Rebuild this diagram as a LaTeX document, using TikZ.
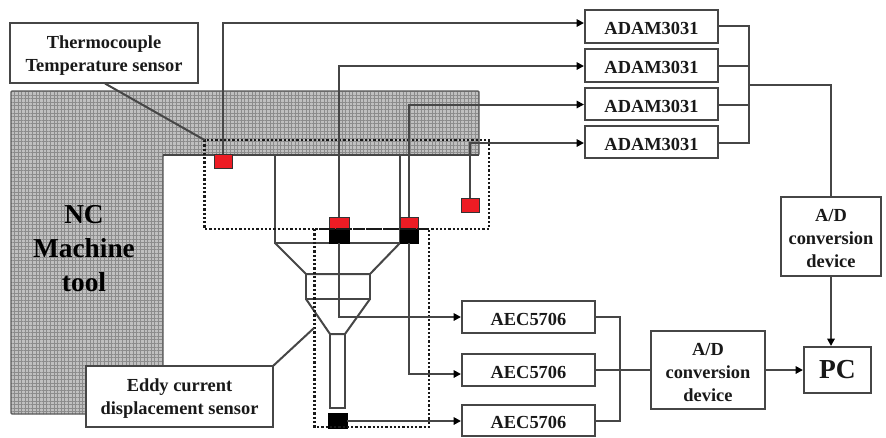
\documentclass[tikz,border=0pt]{standalone}
\usepackage{fontspec}
\setmainfont{Liberation Serif}
\usetikzlibrary{patterns,patterns.meta,arrows.meta}
\definecolor{sensred}{RGB}{237,28,36}
\definecolor{ink}{RGB}{70,70,70}
\definecolor{hatchbase}{RGB}{192,192,192}
\definecolor{hatchline}{RGB}{140,140,140}
\tikzset{
  x=0.75pt,y=-0.75pt,
  wire/.style={draw=ink,line width=1.5pt},
  arrowwire/.style={wire,-{Triangle[length=5.5pt,width=5.5pt,black]}},
  dotbox/.style={draw=black!90,line width=1.7pt,dash pattern=on 1.7pt off 1.5pt},
  lbl/.style={font=\fontsize{13.8pt}{17.2pt}\selectfont\bfseries,align=center,text=black!90},
  boxed/.style={wire,fill=white,inner sep=0pt},
  redsens/.style={draw=black!80,line width=0.75pt,fill=sensred,inner sep=0pt},
  blacksens/.style={draw=black,fill=black,inner sep=0pt},
}
\newcommand{\boxat}[6]{\node[boxed,minimum width=#4*0.75pt-#2*0.75pt,minimum height=#5*0.75pt-#3*0.75pt,label={[lbl,yshift=-1.7pt]center:{#6}}] (#1) at ({(#2+#4)/2},{(#3+#5)/2}) {};}
\newcommand{\sensat}[6]{\node[#6,minimum width=#4*0.75pt-#2*0.75pt,minimum height=#5*0.75pt-#3*0.75pt] (#1) at ({(#2+#4)/2},{(#3+#5)/2}) {};}
\begin{document}
\begin{tikzpicture}
\useasboundingbox (0,0) rectangle (886,437);
% machine tool body
\path[fill=hatchbase]
  (11,91)--(479,91)--(479,155)--(163,155)--(163,414)--(11,414)--cycle;
\fill[pattern={Lines[distance=2.7pt,angle=0,line width=0.75pt]},pattern color=hatchline]
  (11,91)--(479,91)--(479,155)--(163,155)--(163,414)--(11,414)--cycle;
\fill[pattern={Lines[distance=2.7pt,angle=90,line width=0.75pt]},pattern color=hatchline]
  (11,91)--(479,91)--(479,155)--(163,155)--(163,414)--(11,414)--cycle;
\draw[draw=gray!70!black,line width=1pt,rounded corners=0.8pt]
  (11,91)--(479,91)--(479,155)--(163,155)--(163,414)--(11,414)--cycle;
\node[font=\fontsize{20.5pt}{25.5pt}\selectfont\bfseries,align=center,text=black] (nc) at (84,249) {NC\\Machine\\tool};
% tool
\coordinate (t1) at (275,155); \coordinate (t2) at (275,243); \coordinate (t3) at (400,243); \coordinate (t4) at (400,155);
\coordinate (f1) at (306,274); \coordinate (f2) at (370,274); \coordinate (f3) at (306,299); \coordinate (f4) at (370,299);
\coordinate (g1) at (330,334); \coordinate (g2) at (345,334); \coordinate (g3) at (330,408); \coordinate (g4) at (345,408);
\draw[wire] (163,155)--(479,155);
\draw[wire] (t1)--(t2)--(t3)--(t4);
\draw[wire] (t2)--(f1)--(f2)--(t3);
\draw[wire] (f1)--(f3)--(f4)--(f2);
\draw[wire] (f3)--(g1)--(g2)--(f4);
\draw[wire] (g1)--(g3)--(g4)--(g2);
% boxes
\boxat{thermo}{10}{23}{198}{83}{Thermocouple\\Temperature sensor}
\boxat{adamA}{585}{10}{718}{43}{ADAM3031}
\boxat{adamB}{585}{49}{718}{82}{ADAM3031}
\boxat{adamC}{585}{88}{718}{120}{ADAM3031}
\boxat{adamD}{585}{126}{718}{158}{ADAM3031}
\boxat{aecA}{462}{300.5}{595}{333}{AEC5706}
\boxat{aecB}{462}{354}{595}{386}{AEC5706}
\boxat{aecC}{462}{405}{595}{436}{AEC5706}
\boxat{adA}{781}{197}{881}{276}{A/D\\conversion\\device}
\boxat{adB}{651}{331}{765}{409}{A/D\\conversion\\device}
\node[boxed,minimum width=50.25pt,minimum height=34.5pt,font=\fontsize{20.6pt}{24pt}\selectfont\bfseries,text=black!90] (pc) at (837.5,370) {PC};
% sensors
\sensat{rA}{214}{154.5}{232}{168}{redsens}
\sensat{rB}{329.5}{217}{349}{229}{redsens}
\sensat{rC}{400}{217}{418}{229}{redsens}
\sensat{rD}{461}{198}{479}{212}{redsens}
\sensat{bB}{329.5}{229}{349}{243}{blacksens}
\sensat{bC}{400}{229}{418}{243}{blacksens}
\sensat{bD}{328}{413}{347}{428}{blacksens}
% dotted frames
\coordinate (d1) at (204.5,140); \coordinate (d2) at (489,229); \coordinate (e1) at (314.5,229); \coordinate (e2) at (429,427);
\draw[dotbox] (d1) rectangle (d2);
\draw[dotbox] (e1) rectangle (e2);
% leaders
\coordinate (lt) at (105,83.5); \coordinate (le) at (273,366); \coordinate (lf) at (314,328);
\draw[wire] (lt)--(d1);
\draw[wire] (le)--(lf);
% thermocouple wires
\coordinate (wA) at (222.5,23); \coordinate (wB) at (339,66); \coordinate (wC) at (408.7,104.5); \coordinate (wD) at (470,143);
\draw[arrowwire] (rA.north -| wA)--(wA)--(wA -| adamA.west);
\draw[arrowwire] (rB.north -| wB)--(wB)--(wB -| adamB.west);
\draw[arrowwire] (rC.north -| wC)--(wC)--(wC -| adamC.west);
\draw[arrowwire] (rD.north -| wD)--(wD)--(wD -| adamD.west);
% eddy wires
\coordinate (wE) at (339,317); \coordinate (wF) at (408.7,374); \coordinate (wG) at (347,421);
\draw[arrowwire] (bB.south -| wE)--(wE)--(wE -| aecA.west);
\draw[arrowwire] (bC.south -| wF)--(wF)--(wF -| aecB.west);
\draw[arrowwire] (wG)--(wG -| aecC.west);
% buses
\coordinate (busA) at (749,84.5);
\draw[wire] (718,26)--(749,26)--(749,143)--(718,143);
\draw[wire] (718,65.5)--(749,65.5);
\draw[wire] (718,104.5)--(749,104.5);
\draw[wire] (busA)--(busA -| adA.north)--(adA.north);
\coordinate (busB) at (620,370);
\draw[wire] (595,317)--(620,317)--(620,421)--(595,421);
\draw[wire] (595,370)--(adB.west |- busB);
\draw[arrowwire] (adB.east |- busB)--(pc.west |- busB);
\draw[arrowwire] (adA.south)--(adA.south |- pc.north);
% label box over the frame
\node[boxed,minimum width=140.25pt,minimum height=45.75pt,label={[lbl,yshift=-1.7pt]center:{Eddy current\\displacement sensor}}] (eddy) at (179.5,396.5) {};
\end{tikzpicture}
\end{document}
